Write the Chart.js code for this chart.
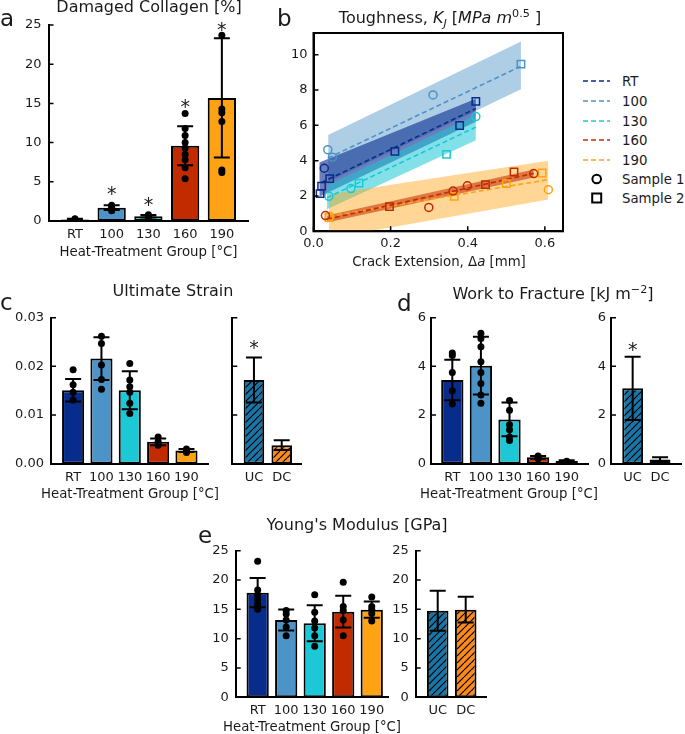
<!DOCTYPE html>
<html>
<head>
<meta charset="utf-8">
<script src="https://cdn.jsdelivr.net/npm/chart.js@4.4.0/dist/chart.umd.min.js"></script>
<style>
  body { margin: 0; width: 685px; height: 734px; position: relative; background: #fff; overflow: hidden; font-family: "DejaVu Sans", sans-serif; color: #1a1a1a; }
  canvas { position: absolute; }
  .txt { position: absolute; line-height: 1; white-space: nowrap; }
  sup, sub { line-height: 0; font-size: 0.7em; }
</style>
</head>
<body>
<script>
// ---- data ----
const groups = ['RT', '100', '130', '160', '190'];
const coolGroups = ['UC', 'DC'];
const groupColors = ['#082c8c', '#4c93c8', '#1cc7d6', '#c22a00', '#ffa314'];
const coolColors = ['#1877a8', '#ff8a1c'];

// a: damaged collagen [%]
const collagenMean = [0.2, 1.7, 0.6, 9.6, 15.7];
const collagenSd = [0.1, 0.3, 0.15, 2.5, 7.6];
const collagenPts = [[0.3, 0.2, 0.15], [2.0, 1.8, 1.6, 1.4, 1.3], [0.8, 0.6, 0.5], [13.7, 11.8, 10.9, 10.0, 9.3, 8.5, 7.8, 6.8, 5.4], [23.7, 14.3, 13.8, 12.7, 6.5, 6.2]];
const collagenStars = [null, 4.1, 2.7, 15.2, 25.0];
const collagenTicks = [0, 5, 10, 15, 20, 25];

// b: toughness KJ vs crack extension
const kjSample1 = [
  [[0.028, 3.57]],
  [[0.037, 4.62], [0.049, 4.2], [0.310, 7.72]],
  [[0.040, 1.98], [0.097, 2.42], [0.421, 6.5]],
  [[0.031, 0.89], [0.299, 1.35], [0.362, 2.28], [0.399, 2.58], [0.571, 3.27]],
  [[0.042, 0.85], [0.609, 2.36]]
];
const kjSample2 = [
  [[0.017, 2.13], [0.021, 2.56], [0.042, 2.98], [0.211, 4.53], [0.379, 5.99], [0.421, 7.36]],
  [[0.538, 9.47]],
  [[0.118, 2.73], [0.345, 4.36]],
  [[0.197, 1.4], [0.446, 2.64], [0.520, 3.36]],
  [[0.040, 0.78], [0.365, 1.98], [0.500, 2.70], [0.593, 3.30]]
];
// fit line: x0, y0, x1, y1
const kjFit = [
  [0.02, 2.75, 0.421, 6.95],
  [0.038, 4.15, 0.538, 9.35],
  [0.035, 1.9, 0.421, 5.9],
  [0.035, 0.68, 0.571, 3.28],
  [0.04, 0.85, 0.609, 2.93]
];
// band: x0, lower0, upper0, x1, lower1, upper1
const kjBand = [
  [0.015, 1.95, 3.9, 0.421, 6.2, 7.5],
  [0.038, 2.8, 5.45, 0.538, 8.05, 10.75],
  [0.035, 1.25, 2.6, 0.421, 5.15, 6.6],
  [0.035, 0.5, 0.9, 0.571, 3.05, 3.5],
  [0.04, -0.4, 2.1, 0.609, 1.8, 4.0]
];
const kjXTicks = [0, 0.2, 0.4, 0.6];
const kjYTicks = [0, 2, 4, 6, 8, 10];

// c: ultimate strain
const strainMean = [0.0151, 0.0216, 0.0151, 0.0045, 0.0027];
const strainSd = [0.0023, 0.0044, 0.0039, 0.0007, 0.0003];
const strainPts = [[0.0193, 0.0162, 0.0147, 0.0131], [0.0262, 0.0247, 0.0203, 0.0173, 0.0153], [0.0206, 0.0172, 0.0158, 0.0147, 0.0124, 0.0103], [0.0055, 0.0045, 0.0038], [0.003, 0.0027, 0.0023]];
const strainCoolMean = [0.0172, 0.0038];
const strainCoolSd = [0.0046, 0.001];
const strainCoolStars = [0.0247, null];
const strainTicks = [0, 0.01, 0.02, 0.03];

// d: work to fracture
const wtfMean = [3.44, 4.03, 1.82, 0.26, 0.11];
const wtfSd = [0.83, 1.19, 0.69, 0.06, 0.03];
const wtfPts = [[4.55, 4.45, 3.75, 3.0, 2.45], [5.36, 5.15, 4.81, 4.19, 3.75, 3.3, 2.82, 2.48], [2.6, 2.2, 1.6, 1.4, 1.1, 0.95], [0.32, 0.25, 0.2], [0.1, 0.08]];
const wtfCoolMean = [3.1, 0.17];
const wtfCoolSd = [1.3, 0.1];
const wtfCoolStars = [4.88, null];
const wtfTicks = [0, 2, 4, 6];

// e: Young's modulus
const ymMean = [17.84, 13.18, 12.61, 14.6, 14.94];
const ymSd = [2.5, 1.8, 3.07, 2.7, 1.39];
const ymPts = [[23.2, 18.3, 17.5, 16.7, 16.0, 15.3, 15.0], [14.8, 14.2, 13.2, 12.0, 10.5], [17.5, 14.5, 13.0, 11.8, 10.5, 8.7], [19.6, 15.5, 14.8, 13.2, 10.5], [17.1, 15.5, 15.0, 14.3, 13.0]];
const ymCoolMean = [14.77, 14.94];
const ymCoolSd = [3.4, 2.2];
const ymTicks = [0, 5, 10, 15, 20, 25];

// ---- helpers ----
Chart.defaults.font.family = '"DejaVu Sans", sans-serif';
Chart.defaults.font.size = 13;
Chart.defaults.color = '#1a1a1a';

function rgba(hex, a) {
  const n = parseInt(hex.slice(1), 16);
  return `rgba(${n >> 16},${(n >> 8) & 255},${n & 255},${a})`;
}

function hatch(color) {
  const s = 7, c = document.createElement('canvas');
  c.width = c.height = s;
  const g = c.getContext('2d');
  g.fillStyle = color;
  g.fillRect(0, 0, s, s);
  g.strokeStyle = '#000';
  g.lineWidth = 1.2;
  for (const k of [-s, 0, s]) {
    g.beginPath(); g.moveTo(k, s); g.lineTo(k + s, 0); g.stroke();
  }
  return g.createPattern(c, 'repeat');
}

function addText(html, x, baseline, size, align) {
  const d = document.createElement('div');
  d.className = 'txt';
  d.innerHTML = html;
  d.style.fontSize = size + 'px';
  d.style.top = (baseline - 0.846 * size) + 'px';
  d.style.left = x + 'px';
  if (align !== 'left') d.style.transform = 'translateX(-50%)';
  document.body.appendChild(d);
}

// place a canvas so that the chart area lands on the given pixel box
function makeCanvas(area) {
  const L = Math.round(area.left) - 50, T = Math.round(area.top) - 14;
  const W = Math.ceil(area.right + 8 - L), H = Math.ceil(area.bottom + 30 - T);
  const c = document.createElement('canvas');
  c.width = W; c.height = H;
  c.style.left = L + 'px'; c.style.top = T + 'px';
  document.body.appendChild(c);
  return { c, wy: area.left - L, pt: area.top - T, pr: L + W - area.right, hx: T + H - area.bottom };
}

const errBars = {
  id: 'errBars',
  afterDatasetsDraw(chart, args, o) {
    if (!o.mean) return;
    const { ctx, scales: { x, y } } = chart;
    ctx.save();
    ctx.strokeStyle = '#000';
    ctx.lineWidth = 2;
    o.mean.forEach((m, i) => {
      const px = x.getPixelForValue(i);
      const t = y.getPixelForValue(m + o.sd[i]), b = y.getPixelForValue(m - o.sd[i]);
      ctx.beginPath();
      ctx.moveTo(px, t); ctx.lineTo(px, b);
      ctx.moveTo(px - 8, t); ctx.lineTo(px + 8, t);
      ctx.moveTo(px - 8, b); ctx.lineTo(px + 8, b);
      ctx.stroke();
    });
    if (o.stars) {
      ctx.fillStyle = '#1a1a1a';
      ctx.font = '19px "DejaVu Sans"';
      ctx.textAlign = 'center';
      ctx.textBaseline = 'alphabetic';
      o.stars.forEach((s, i) => {
        if (s == null) return;
        ctx.fillText('*', x.getPixelForValue(i), y.getPixelForValue(s) + 11);
      });
    }
    ctx.restore();
  }
};

// matplotlib style inward tick marks (+ full box for panel b)
const inTicks = {
  id: 'inTicks',
  afterDraw(chart, args, o) {
    const { ctx, chartArea: a, scales: { x, y } } = chart;
    ctx.save();
    ctx.strokeStyle = '#000';
    ctx.lineWidth = 1.5;
    ctx.beginPath();
    y.ticks.forEach(t => {
      const p = y.getPixelForValue(t.value);
      ctx.moveTo(a.left, p); ctx.lineTo(a.left + 5, p);
    });
    if (o.x) x.ticks.forEach(t => {
      const p = x.getPixelForValue(t.value);
      ctx.moveTo(p, a.bottom); ctx.lineTo(p, a.bottom - 5);
    });
    ctx.stroke();
    if (o.box) {
      ctx.lineWidth = 2;
      ctx.strokeRect(a.left, a.top, a.right - a.left, a.bottom - a.top);
    }
    ctx.restore();
  }
};

const noGrid = { display: false, drawTicks: false };

function barPanel(cfg) {
  const g = makeCanvas(cfg.area);
  const datasets = [{
    type: 'bar',
    data: cfg.mean.map((v, i) => ({ x: i, y: v })),
    backgroundColor: cfg.fills,
    borderColor: '#000',
    borderWidth: 2,
    borderSkipped: false,
    barPercentage: cfg.barPct,
    categoryPercentage: 1,
    order: 2
  }];
  if (cfg.pts) datasets.push({
    type: 'scatter',
    data: cfg.pts.flatMap((arr, i) => arr.map(v => ({ x: i, y: v }))),
    pointRadius: 3.5,
    backgroundColor: '#000',
    borderWidth: 0,
    order: 1
  });
  new Chart(g.c, {
    type: 'bar',
    data: { datasets },
    options: {
      responsive: false, animation: false, devicePixelRatio: 1,
      layout: { padding: { top: g.pt, right: g.pr, left: 0, bottom: 0 } },
      plugins: {
        legend: { display: false }, tooltip: { enabled: false },
        errBars: { mean: cfg.mean, sd: cfg.sd, stars: cfg.stars },
        inTicks: {}
      },
      scales: {
        x: {
          type: 'linear', offset: false, min: cfg.xMin, max: cfg.xMax,
          grid: noGrid, border: { color: '#000', width: 2 },
          ticks: { autoSkip: false, maxRotation: 0, minRotation: 0, padding: cfg.xPad, callback: v => cfg.names[v] },
          afterBuildTicks: s => { s.ticks = cfg.names.map((_, i) => ({ value: i })); },
          afterFit: s => { s.height = g.hx; s.paddingLeft = 0; s.paddingRight = 0; }
        },
        y: {
          min: 0, max: cfg.yMax,
          grid: noGrid, border: { color: '#000', width: 2 },
          ticks: { display: cfg.yLabels !== false, padding: cfg.yPad, callback: cfg.fmt },
          afterBuildTicks: s => { s.ticks = cfg.yTicks.map(v => ({ value: v })); },
          afterFit: s => { s.width = g.wy; s.paddingTop = 0; s.paddingBottom = 0; }
        }
      }
    },
    plugins: [errBars, inTicks]
  });
}

const coolFills = coolColors.map(hatch);
const intFmt = v => String(v);

// ---- panel a ----
barPanel({ area: { left: 48.5, right: 248.3, top: 25, bottom: 221 }, names: groups, mean: collagenMean, sd: collagenSd,
  pts: collagenPts, stars: collagenStars, fills: groupColors, barPct: 0.77, xMin: -0.72, xMax: 4.72,
  yMax: 25, yTicks: collagenTicks, fmt: intFmt, yPad: 7, xPad: 6 });

// ---- panel b ----
(function () {
  const g = makeCanvas({ left: 313.5, right: 563, top: 33, bottom: 231.3 });
  const bandOrder = [50, 60, 40, 20, 30];
  const bandAlpha = [0.6, 0.45, 0.55, 0.55, 0.45];
  const datasets = [];
  groups.forEach((name, i) => {
    const col = groupColors[i];
    const [x0, lo0, hi0, x1, lo1, hi1] = kjBand[i];
    datasets.push({ type: 'line', data: [{ x: x0, y: lo0 }, { x: x1, y: lo1 }], borderWidth: 1, borderColor: 'transparent', pointRadius: 0, fill: false, order: bandOrder[i] });
    datasets.push({ type: 'line', data: [{ x: x0, y: hi0 }, { x: x1, y: hi1 }], borderWidth: 1, borderColor: 'transparent', pointRadius: 0, fill: '-1', backgroundColor: rgba(col, bandAlpha[i]), order: bandOrder[i] });
  });
  groups.forEach((name, i) => {
    const col = groupColors[i];
    const f = kjFit[i];
    datasets.push({ type: 'line', data: [{ x: f[0], y: f[1] }, { x: f[2], y: f[3] }], borderColor: col, borderWidth: 1.6, borderDash: [5, 3], pointRadius: 0, fill: false, order: 10 });
    datasets.push({ type: 'scatter', data: kjSample1[i].map(([x, y]) => ({ x, y })), pointStyle: 'circle', pointRadius: 4, borderColor: col, backgroundColor: 'transparent', borderWidth: 1.5, order: 1 });
    datasets.push({ type: 'scatter', data: kjSample2[i].map(([x, y]) => ({ x, y })), pointStyle: 'rect', pointRadius: 5.2, borderColor: col, backgroundColor: 'transparent', borderWidth: 1.5, order: 1 });
  });
  new Chart(g.c, {
    type: 'scatter',
    data: { datasets },
    options: {
      responsive: false, animation: false, devicePixelRatio: 1,
      layout: { padding: { top: g.pt, right: g.pr, left: 0, bottom: 0 } },
      plugins: { legend: { display: false }, tooltip: { enabled: false }, inTicks: { x: true, box: true } },
      scales: {
        x: {
          type: 'linear', min: 0, max: 0.647,
          grid: noGrid, border: { color: '#000', width: 2 },
          ticks: { autoSkip: false, maxRotation: 0, padding: 5, callback: v => v.toFixed(1) },
          afterBuildTicks: s => { s.ticks = kjXTicks.map(v => ({ value: v })); },
          afterFit: s => { s.height = g.hx; s.paddingLeft = 0; s.paddingRight = 0; }
        },
        y: {
          min: 0, max: 11.23,
          grid: noGrid, border: { color: '#000', width: 2 },
          ticks: { padding: 6, callback: intFmt },
          afterBuildTicks: s => { s.ticks = kjYTicks.map(v => ({ value: v })); },
          afterFit: s => { s.width = g.wy; s.paddingTop = 0; s.paddingBottom = 0; }
        }
      }
    },
    plugins: [inTicks]
  });
})();

// ---- panel c ----
barPanel({ area: { left: 51, right: 208.3, top: 317.7, bottom: 463.7 }, names: groups, mean: strainMean, sd: strainSd,
  pts: strainPts, fills: groupColors, barPct: 0.78, xMin: -0.78, xMax: 4.77,
  yMax: 0.03, yTicks: strainTicks, fmt: v => v.toFixed(2), yPad: 7, xPad: 6 });
barPanel({ area: { left: 232.3, right: 301.7, top: 317.7, bottom: 463.7 }, names: coolGroups, mean: strainCoolMean, sd: strainCoolSd,
  stars: strainCoolStars, fills: coolFills, barPct: 0.74, xMin: -0.78, xMax: 1.72,
  yMax: 0.03, yTicks: strainTicks, yLabels: false, fmt: v => v.toFixed(2), yPad: 7, xPad: 6 });

// ---- panel d ----
barPanel({ area: { left: 431, right: 588.3, top: 317.7, bottom: 463.7 }, names: groups, mean: wtfMean, sd: wtfSd,
  pts: wtfPts, fills: groupColors, barPct: 0.78, xMin: -0.745, xMax: 4.755,
  yMax: 6, yTicks: wtfTicks, fmt: intFmt, yPad: 5, xPad: 6 });
barPanel({ area: { left: 611, right: 681.7, top: 317.7, bottom: 463.7 }, names: coolGroups, mean: wtfCoolMean, sd: wtfCoolSd,
  stars: wtfCoolStars, fills: coolFills, barPct: 0.76, xMin: -0.79, xMax: 1.79,
  yMax: 6, yTicks: wtfTicks, fmt: intFmt, yPad: 5, xPad: 6 });

// ---- panel e ----
barPanel({ area: { left: 235.7, right: 388.3, top: 550.7, bottom: 697.3 }, names: groups, mean: ymMean, sd: ymSd,
  pts: ymPts, fills: groupColors, barPct: 0.78, xMin: -0.77, xMax: 4.58,
  yMax: 25, yTicks: ymTicks, fmt: intFmt, yPad: 7, xPad: 6 });
barPanel({ area: { left: 415.7, right: 486.7, top: 550.7, bottom: 697.3 }, names: coolGroups, mean: ymCoolMean, sd: ymCoolSd,
  fills: coolFills, barPct: 0.77, xMin: -0.786, xMax: 1.75,
  yMax: 25, yTicks: ymTicks, fmt: intFmt, yPad: 7, xPad: 6 });

// ---- text ----
const xTitle = 'Heat-Treatment Group [°C]';
addText('a', 0, 26.7, 23, 'left');
addText('Damaged Collagen [%]', 149, 12.7, 16);
addText(xTitle, 148.5, 256, 13.3);
addText('b', 277, 26.7, 23, 'left');
addText('Toughness, <i>K<sub>J</sub></i> [<i>MPa m</i><sup>0.5</sup> ]', 440, 24, 16);
addText('Crack Extension, Δ<i>a</i> [mm]', 439, 266.7, 13.3);
addText('c', 0, 310, 23, 'left');
addText('Ultimate Strain', 173, 296.7, 16);
addText(xTitle, 130, 498.3, 13.3);
addText('d', 397, 311, 23, 'left');
addText('Work to Fracture [kJ m<sup>−2</sup>]', 553, 300, 16);
addText(xTitle, 509, 498.3, 13.3);
addText('e', 198, 543.3, 23, 'left');
addText("Young's Modulus [GPa]", 357, 530.7, 16);
addText(xTitle, 312, 731.7, 13.3);

// ---- legend for panel b ----
(function () {
  const ns = 'http://www.w3.org/2000/svg';
  const svg = document.createElementNS(ns, 'svg');
  svg.setAttribute('width', 110); svg.setAttribute('height', 150);
  svg.style.position = 'absolute'; svg.style.left = '575px'; svg.style.top = '65px';
  const el = (tag, attrs) => { const e = document.createElementNS(ns, tag); for (const k in attrs) e.setAttribute(k, attrs[k]); svg.appendChild(e); return e; };
  const rows = [81, 101, 121, 140, 160, 179, 198].map(v => v - 65);
  const label = (txt, y) => { el('text', { x: 47, y: y + 4.7, 'font-family': 'DejaVu Sans', 'font-size': 13.3, fill: '#1a1a1a' }).textContent = txt; };
  groups.forEach((name, i) => {
    el('line', { x1: 8, x2: 35, y1: rows[i], y2: rows[i], stroke: groupColors[i], 'stroke-width': 1.6, 'stroke-dasharray': '5 3' });
    label(name, rows[i]);
  });
  el('circle', { cx: 21.7, cy: rows[5], r: 4.3, fill: 'none', stroke: '#000', 'stroke-width': 2 });
  label('Sample 1', rows[5]);
  el('rect', { x: 17.2, y: rows[6] - 4.5, width: 9, height: 9, fill: 'none', stroke: '#000', 'stroke-width': 2 });
  label('Sample 2', rows[6]);
  document.body.appendChild(svg);
})();
</script>
</body>
</html>
